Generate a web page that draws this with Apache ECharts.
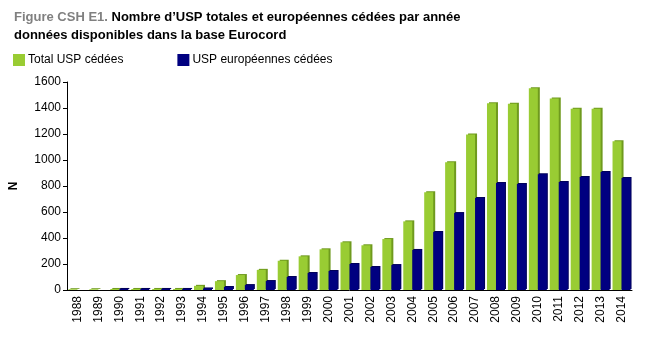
<!DOCTYPE html>
<html>
<head>
<meta charset="utf-8">
<script src="https://cdn.jsdelivr.net/npm/echarts@6/dist/echarts.min.js"></script>
<style>
html, body { margin: 0; padding: 0; background: #fff; }
#chart { width: 645px; height: 350px; }
</style>
</head>
<body>
<div id="chart"></div>
<script>
// années
const years = ['1988', '1989', '1990', '1991', '1992', '1993', '1994', '1995', '1996',
    '1997', '1998', '1999', '2000', '2001', '2002', '2003', '2004', '2005', '2006',
    '2007', '2008', '2009', '2010', '2011', '2012', '2013', '2014']

// Total USP cédées
const totalUsp = [6, 6, 8, 8, 8, 8, 32, 68, 115, 155, 225, 259, 313, 367, 344, 392,
    528, 751, 982, 1197, 1436, 1433, 1551, 1474, 1395, 1395, 1144]

// USP européennes cédées
const euroUsp = [0, 0, 8, 8, 8, 8, 12, 23, 38, 69, 100, 131, 146, 200, 177, 192,
    308, 446, 592, 708, 823, 815, 890, 831, 869, 908, 862]

const yTicks = { min: 0, max: 1600, interval: 200 }

const font = 'Arial, "Liberation Sans", sans-serif'

let option = {
    animation: false,
    backgroundColor: '#fff',
    title: {
        left: 9,
        top: 3,
        text: '{g|Figure CSH E1. }{b|Nombre d\u2019USP totales et européennes cédées par année}\n{b|données disponibles dans la base Eurocord}',
        textStyle: {
            rich: {
                g: { color: '#808080', fontWeight: 'bold', fontSize: 13, fontFamily: font, lineHeight: 18 },
                b: { color: '#000', fontWeight: 'bold', fontSize: 13, fontFamily: font, lineHeight: 18 }
            }
        }
    },
    legend: {
        left: 8,
        top: 49,
        itemWidth: 12,
        itemHeight: 12,
        itemGap: 54,
        icon: 'rect',
        textStyle: { fontFamily: font, fontSize: 12, color: '#000', padding: [0, 0, 0, -2] },
        data: ['Total USP cédées', 'USP européennes cédées']
    },
    grid: {
        left: 64,
        right: 13,
        top: 82,
        bottom: 60
    },
    xAxis: {
        type: 'category',
        data: years,
        axisLine: { lineStyle: { color: '#000', width: 1 } },
        axisTick: { show: false },
        axisLabel: {
            rotate: 90,
            interval: 0,
            margin: 6,
            fontFamily: font,
            fontSize: 12,
            color: '#000'
        }
    },
    yAxis: {
        type: 'value',
        min: yTicks.min,
        max: yTicks.max,
        interval: yTicks.interval,
        name: 'N',
        nameLocation: 'middle',
        nameGap: 47,
        nameTextStyle: { fontFamily: font, fontWeight: 'bold', fontSize: 12, color: '#000' },
        axisLine: { show: true, lineStyle: { color: '#000', width: 1 } },
        axisTick: { show: true, length: 4, lineStyle: { color: '#000' } },
        splitLine: { show: false },
        axisLabel: {
            fontFamily: font, fontSize: 12, color: '#000', margin: 6,
            formatter: v => String(v)
        }
    },
    series: [
        {
            name: 'Total USP cédées',
            type: 'bar',
            data: totalUsp,
            barWidth: 9,
            barGap: '0%',
            itemStyle: {
                color: '#99cc33',
                shadowColor: '#6f9a1e',
                shadowBlur: 0,
                shadowOffsetX: 2,
                shadowOffsetY: -1
            }
        },
        {
            name: 'USP européennes cédées',
            type: 'bar',
            data: euroUsp,
            barWidth: 9,
            itemStyle: {
                color: '#000080',
                shadowColor: '#00005a',
                shadowBlur: 0,
                shadowOffsetX: 1,
                shadowOffsetY: -1
            }
        }
    ]
}

let myChart = echarts.init(document.getElementById('chart'))
myChart.setOption(option)
</script>
</body>
</html>
